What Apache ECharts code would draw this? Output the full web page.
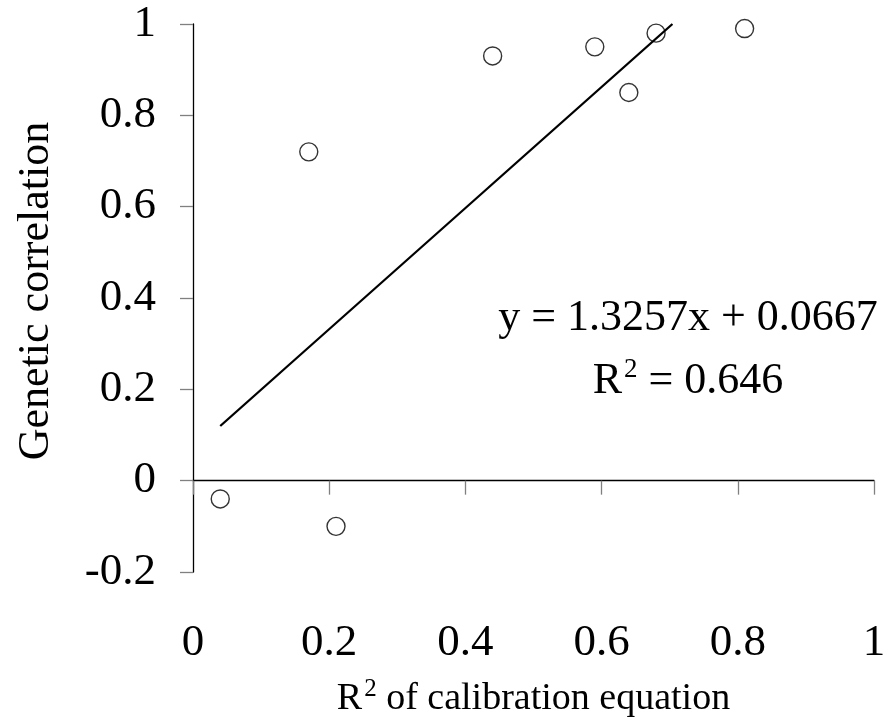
<!DOCTYPE html>
<html><head><meta charset="utf-8">
<script src="https://cdn.jsdelivr.net/npm/echarts@6/dist/echarts.min.js"></script>
<style>html,body{margin:0;padding:0;background:#fff}#c{width:890px;height:723px}</style>
</head><body><div id="c"></div>
<script>
// ---- data ----
const xValues = [0.04, 0.17, 0.21, 0.44, 0.59, 0.64, 0.68, 0.81];
const yValues = [-0.04, 0.72, -0.10, 0.93, 0.95, 0.85, 0.98, 0.99];
const trendSlope = 1.3257;
const trendIntercept = 0.0667;
const trendR2 = 0.646;
const xTicks = [0, 0.2, 0.4, 0.6, 0.8, 1];
const yTicks = [-0.2, 0, 0.2, 0.4, 0.6, 0.8, 1];
const xTitleParts = ['R', '2', ' of calibration equation'];
const yTitle = 'Genetic correlation';

// ---- build ----
const FONT = "'Liberation Serif','Times New Roman',serif";
const xMin = xTicks[0], xMax = xTicks[xTicks.length - 1], xStep = xTicks[1] - xTicks[0];
const yMin = yTicks[0], yMax = yTicks[yTicks.length - 1], yStep = yTicks[1] - yTicks[0];
const points = xValues.map((x, i) => [x, yValues[i]]);
const tStart = Math.min(...xValues);
const tEnd = Math.min(xMax, (yMax - trendIntercept) / trendSlope);
const trendPoints = [tStart, tEnd].map(x => [x, trendSlope * x + trendIntercept]);

const chart = echarts.init(document.getElementById('c'), null, {renderer: 'canvas'});
chart.setOption({
  animation: false,
  backgroundColor: '#fff',
  grid: {left: 193, right: 16, top: 24, bottom: 151, containLabel: false},
  xAxis: [
    {
      type: 'value', min: xMin, max: xMax, interval: xStep,
      axisLine: {show: true, onZero: true, lineStyle: {color: '#000', width: 1.3}},
      axisTick: {show: true, length: 14, lineStyle: {color: '#808080', width: 1.3}},
      axisLabel: {show: false},
      splitLine: {show: false}
    },
    {
      type: 'value', min: xMin, max: xMax, interval: xStep, position: 'bottom',
      axisLine: {show: false, onZero: false},
      axisTick: {show: false},
      splitLine: {show: false},
      axisLabel: {show: true, margin: 49, fontSize: 45, fontFamily: FONT, color: '#000'},
      name: '{a|' + xTitleParts[0] + '}{b|' + xTitleParts[1] + '}{a|' + xTitleParts[2] + '}',
      nameLocation: 'middle', nameGap: 105,
      nameTextStyle: {
        rich: {
          a: {fontSize: 38, fontFamily: FONT, color: '#000'},
          b: {fontSize: 25, fontFamily: FONT, color: '#000', padding: [0, 0, 19, 2]}
        }
      }
    }
  ],
  yAxis: {
    type: 'value', min: yMin, max: yMax, interval: yStep,
    axisLine: {show: true, onZero: false, lineStyle: {color: '#000', width: 1.3}},
    axisTick: {show: true, length: 13, lineStyle: {color: '#808080', width: 1.3}},
    axisLabel: {margin: 37, fontSize: 45, fontFamily: FONT, color: '#000'},
    splitLine: {show: false},
    name: yTitle, nameLocation: 'middle', nameRotate: 90, nameGap: 135,
    nameTextStyle: {fontSize: 44, fontFamily: FONT, color: '#000', padding: [0, 0, 0, 14]}
  },
  series: [
    {
      type: 'line', xAxisIndex: 0, data: trendPoints, symbol: 'none', silent: true,
      lineStyle: {color: '#000', width: 2.3}, z: 3
    },
    {
      type: 'scatter', xAxisIndex: 0, data: points, symbol: 'circle', symbolSize: 18,
      itemStyle: {color: 'rgba(0,0,0,0)', borderColor: '#000', borderWidth: 1.4}, z: 2
    }
  ],
  graphic: [{
    type: 'text', x: 688, y: 350, z: 10,
    style: {
      text: '{n|y = ' + trendSlope + 'x + ' + trendIntercept + '}\n{n|R}{s|2}{n| = ' + trendR2 + '}',
      align: 'center', verticalAlign: 'middle', fill: '#000',
      rich: {
        n: {fontSize: 44, fontFamily: FONT, fill: '#000', lineHeight: 63},
        s: {fontSize: 27, fontFamily: FONT, fill: '#000', padding: [0, 0, 24, 2], lineHeight: 63}
      }
    }
  }]
});
</script>
</body></html>
